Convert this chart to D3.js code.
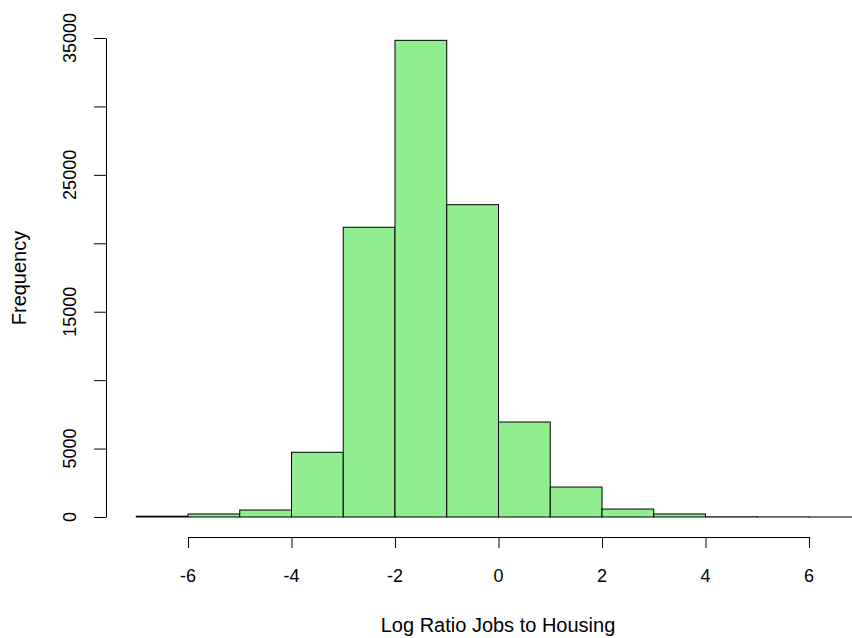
<!DOCTYPE html>
<html>
<head>
<meta charset="utf-8">
<script src="https://cdn.jsdelivr.net/npm/d3@7"></script>
<style>
  body { margin: 0; background: #fff; }
  text { font-family: "Liberation Sans", Arial, sans-serif; fill: #000; }
</style>
</head>
<body>
<div id="chart"></div>
<script>
// histogram bins (lower edges, width 1) and counts
var bin_starts = [-7, -6, -5, -4, -3, -2, -1, 0, 1, 2, 3, 4, 5, 6]
var counts = [60, 220, 510, 4730, 21170, 34830, 22820, 6940, 2190, 580, 220, 15, 5, 2]
var x_ticks = [-6, -4, -2, 0, 2, 4, 6]
var y_ticks = [0, 5000, 10000, 15000, 20000, 25000, 30000, 35000]
var y_labels = [0, 5000, 15000, 25000, 35000]

var total_width = 852,
    total_height = 638

var svg = d3.select("#chart").append("svg")
    .attr("width", total_width)
    .attr("height", total_height)

var x = d3.scaleLinear().domain([-6, 6]).range([188, 809])
var y = d3.scaleLinear().domain([0, 35000]).range([517, 38])

var bins = bin_starts.map((b, i) => ({x0: b, x1: b + 1, n: counts[i]}))

// bars
svg.append("g")
    .selectAll("rect")
    .data(bins)
    .enter()
    .append("rect")
    .attr("x", d => x(d.x0))
    .attr("y", d => y(d.n))
    .attr("width", d => x(d.x1) - x(d.x0))
    .attr("height", d => y(0) - y(d.n))
    .attr("fill", "#90EE90")
    .attr("stroke", "#000")
    .attr("stroke-width", 1)

// x axis (R style: offset below the plot)
var x_axis = svg.append("g")
    .attr("transform", "translate(0,537)")
    .call(d3.axisBottom(x).tickValues(x_ticks).tickSize(11).tickSizeOuter(0).tickPadding(0)
        .tickFormat(""))
x_axis.selectAll("path, line").attr("stroke", "#000")

svg.append("g")
    .selectAll("text")
    .data(x_ticks)
    .enter()
    .append("text")
    .attr("x", d => x(d))
    .attr("y", 582)
    .attr("text-anchor", "middle")
    .style("font-size", "18px")
    .text(d => d < 0 ? "-" + Math.abs(d) : d)

// y axis
var y_axis = svg.append("g")
    .attr("transform", "translate(106,0)")
    .call(d3.axisLeft(y).tickValues(y_ticks).tickSize(12).tickSizeOuter(0).tickFormat(""))
y_axis.selectAll("path, line").attr("stroke", "#000")

svg.append("g")
    .selectAll("text")
    .data(y_labels)
    .enter()
    .append("text")
    .attr("transform", d => "translate(76," + y(d) + ") rotate(-90)")
    .attr("text-anchor", "middle")
    .style("font-size", "18px")
    .text(d => d)

// titles
svg.append("text")
    .attr("x", 498)
    .attr("y", 632)
    .attr("text-anchor", "middle")
    .style("font-size", "20px")
    .text("Log Ratio Jobs to Housing")

svg.append("text")
    .attr("transform", "translate(26,278) rotate(-90)")
    .attr("text-anchor", "middle")
    .style("font-size", "20px")
    .text("Frequency")
</script>
</body>
</html>
